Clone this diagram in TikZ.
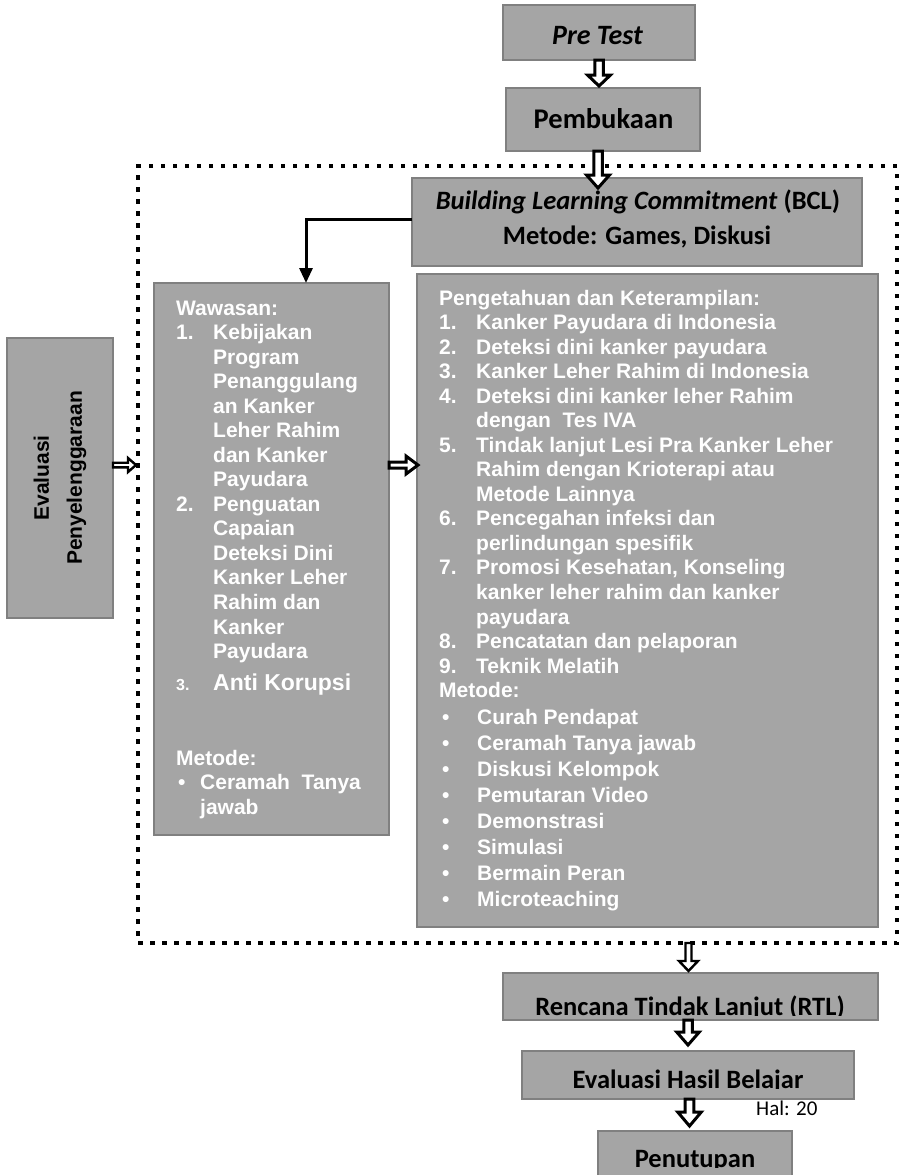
\documentclass[tikz,border=0pt]{standalone}
\usepackage{fontspec}
\setmainfont{Carlito}
\newfontfamily\arial{Liberation Sans}
\usetikzlibrary{calc,arrows.meta}
\definecolor{boxfill}{HTML}{A5A5A5}
\definecolor{boxline}{HTML}{808080}
\newcommand\nitem[2]{\makebox[37pt][l]{#1}#2}
\newcommand\cont[1]{\hspace*{37pt}#1}
\newcommand\bul[1]{\makebox[38pt][l]{\hspace*{3pt}\textbullet}#1}
% vertical hollow block arrow: #1 start (x,y), #2 tip (y), #3 half shaft, #4 half head, #5 head length, #6 line width
\newcommand\vblock[6]{\draw[hollow, line width=#6] let \p1=#1, \p2=#2 in
 (\x1-#3,\y1) -- (\x1-#3,\y2+#5) -- (\x1-#4,\y2+#5) -- (\x1,\y2) -- (\x1+#4,\y2+#5) -- (\x1+#3,\y2+#5) -- (\x1+#3,\y1) -- cycle;}
% horizontal hollow block arrow: #1 start (x,y), #2 tip (x)
\newcommand\hblock[6]{\draw[hollow, line width=#6] let \p1=#1, \p2=#2 in
 (\x1,\y1-#3) -- (\x2-#5,\y1-#3) -- (\x2-#5,\y1-#4) -- (\x2,\y1) -- (\x2-#5,\y1+#4) -- (\x2-#5,\y1+#3) -- (\x1,\y1+#3) -- cycle;}
\tikzset{
  box/.style={draw=boxline, line width=2.5pt, fill=boxfill, inner sep=0pt, outer sep=0pt},
  frame/.style={draw=black, line width=4.5pt, dash pattern=on 4.5pt off 7.5pt, inner sep=0pt, outer sep=0pt},
  hollow/.style={draw=black, fill=white, line join=miter},
  wt/.style={text=white, font=\arial\bfseries\fontsize{21}{24.54}\selectfont, inner sep=0pt, anchor=base west},
  bt/.style={text=black, font=\bfseries\fontsize{26.5}{30}\selectfont, inner sep=0pt, anchor=base},
}
\begin{document}
\begin{tikzpicture}[x=1pt,y=-1pt]
\useasboundingbox (0,0) rectangle (905,1175);
\fill[white] (0,0) rectangle (905,1175);
% dotted frame
\node[frame, minimum width=759pt, minimum height=777pt] (frame) at (517.5,554.5) {};
% boxes
\node[box, minimum width=192pt, minimum height=55pt] (pre) at (599,32.5) {};
\node[box, minimum width=194pt, minimum height=63pt] (pem) at (603,119.5) {};
\node[box, minimum width=450pt, minimum height=88pt] (bcl) at (637,222) {};
\node[box, minimum width=235pt, minimum height=552pt] (waw) at (271.5,559) {};
\node[box, minimum width=461pt, minimum height=653pt] (pen) at (647.5,600.5) {};
\node[box, minimum width=106pt, minimum height=280pt] (eva) at (60,478) {};
\node[box, minimum width=375pt, minimum height=47pt] (rtl) at (690.5,996.5) {};
\node[box, minimum width=332pt, minimum height=48pt] (ehb) at (688,1075) {};
\node[box, minimum width=194pt, minimum height=60pt] (tut) at (695,1161) {};
% connectors
\vblock{(pre.south)}{($(pem.north)+(0,-2)$)}{4.25pt}{11.5pt}{11pt}{3pt}
\vblock{($(pem.south)+(-5,0)$)}{($(bcl.north)+(0,10)$)}{4.25pt}{11.5pt}{13pt}{3pt}
\vblock{($(frame.south -| rtl.north)+(-2,0)$)}{($(rtl.north)+(0,-2)$)}{3pt}{9.5pt}{10pt}{2.4pt}
\vblock{(rtl.south -| ehb.north)}{($(ehb.north)+(0,-6)$)}{4.25pt}{11.3pt}{13pt}{3pt}
\vblock{($(ehb.south)+(1.5,0)$)}{($(tut.north)+(0,-5)$)}{4.3pt}{11.8pt}{14pt}{3pt}
\hblock{($(eva.east)+(0,-13)$)}{($(frame.west)+(-2,0)$)}{2.3pt}{7pt}{8pt}{2.4pt}
\hblock{($(waw.east)+(0,-94)$)}{($(pen.west)+(1,0)$)}{3pt}{9pt}{12pt}{3pt}
\draw[line width=3pt, -{Triangle[length=15pt,width=13pt]}] ($(bcl.west)+(0,-3)$) -| ($(waw.north)+(34.5,0)$);
% texts
\node[bt, font=\bfseries\itshape\fontsize{28}{30}\selectfont] (pretxt) at (597.5,44) {Pre Test};
\node[bt, font=\bfseries\fontsize{28.5}{30}\selectfont] (pemtxt) at (603.5,128) {Pembukaan};
\node[bt] (bcl1) at (638,209) {\textit{Building Learning Commitment} (BCL)};
\node[bt] (bcl2) at (637,244) {Metode: Games, Diskusi};
\node[font=\arial\bfseries\fontsize{21}{33}\selectfont, rotate=90, align=center, inner sep=0pt] (evatxt) at (eva.center) {Evaluasi\\Penyelenggaraan};
\node[wt] (wawtxt) at (176,315) {\begin{tabular}[t]{@{}l@{}}
Wawasan:\\
\nitem{1.}{Kebijakan}\\
\cont{Program}\\
\cont{Penanggulang}\\
\cont{an Kanker}\\
\cont{Leher Rahim}\\
\cont{dan Kanker}\\
\cont{Payudara}\\
\nitem{2.}{Penguatan}\\
\cont{Capaian}\\
\cont{Deteksi Dini}\\
\cont{Kanker Leher}\\
\cont{Rahim dan}\\
\cont{Kanker}\\
\cont{Payudara}
\end{tabular}};
\node[wt] (wawanti) at (176,690) {\makebox[37pt][l]{\fontsize{16}{18}\selectfont 3.}{\fontsize{23}{26}\selectfont Anti Korupsi}};
\node[wt] (wawmet) at (176,765) {\begin{tabular}[t]{@{}l@{}}
Metode:\\
\makebox[24pt][l]{\hspace*{2pt}\textbullet}Ceramah~ Tanya\\
\hspace*{24pt}jawab
\end{tabular}};
\node[wt] (pentxt) at (439,305) {\begin{tabular}[t]{@{}l@{}}
Pengetahuan dan Keterampilan:\\
\nitem{1.}{Kanker Payudara di Indonesia}\\
\nitem{2.}{Deteksi dini kanker payudara}\\
\nitem{3.}{Kanker Leher Rahim di Indonesia}\\
\nitem{4.}{Deteksi dini kanker leher Rahim}\\
\cont{dengan~ Tes IVA}\\
\nitem{5.}{Tindak lanjut Lesi Pra Kanker Leher}\\
\cont{Rahim dengan Krioterapi atau}\\
\cont{Metode Lainnya}\\
\nitem{6.}{Pencegahan infeksi dan}\\
\cont{perlindungan spesifik}\\
\nitem{7.}{Promosi Kesehatan, Konseling}\\
\cont{kanker leher rahim dan kanker}\\
\cont{payudara}\\
\nitem{8.}{Pencatatan dan pelaporan}\\
\nitem{9.}{Teknik Melatih}\\
Metode:
\end{tabular}};
\node[wt, font=\arial\bfseries\fontsize{21}{26}\selectfont] (penbul) at (439,724) {\begin{tabular}[t]{@{}l@{}}
\bul{Curah Pendapat}\\
\bul{Ceramah Tanya jawab}\\
\bul{Diskusi Kelompok}\\
\bul{Pemutaran Video}\\
\bul{Demonstrasi}\\
\bul{Simulasi}\\
\bul{Bermain Peran}\\
\bul{Microteaching}
\end{tabular}};
\begin{scope}
\clip (rtl.north west) rectangle ($(rtl.south east)+(0,-5)$);
\node[bt] (rtltxt) at (690,1015) {Rencana Tindak Lanjut (RTL)};
\end{scope}
\begin{scope}
\clip (ehb.north west) rectangle ($(ehb.south east)+(0,-11)$);
\node[bt] (ehbtxt) at (688,1088) {Evaluasi Hasil Belajar};
\end{scope}
\begin{scope}
\clip (tut.north west) rectangle ($(tut.south east)+(0,-24)$);
\node[bt] (tuttxt) at (695,1167) {Penutupan};
\end{scope}
\node[font=\fontsize{21}{24}\selectfont, anchor=base west, inner sep=0pt] (hal) at (756,1115) {Hal: 20};
\end{tikzpicture}
\end{document}
